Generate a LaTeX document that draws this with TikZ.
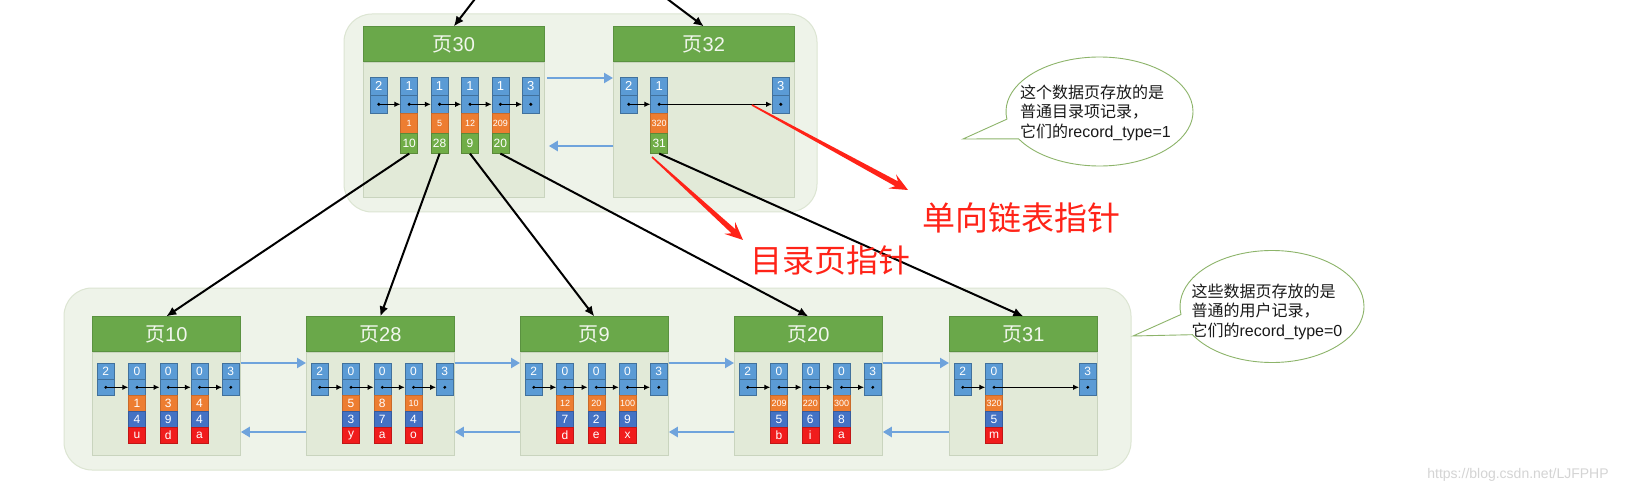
\documentclass[tikz,border=0pt]{standalone}
\usepackage{fontspec}
\setmainfont{Liberation Sans}
\newfontfamily\cjk{Noto Sans CJK SC}
\usetikzlibrary{arrows.meta,calc,shapes.callouts}
\definecolor{grpbg}{HTML}{EEF3E9}
\definecolor{grpline}{HTML}{DCE5D2}
\definecolor{bodybg}{HTML}{E2EAD8}
\definecolor{bodyline}{HTML}{C9D4BE}
\definecolor{hdr}{HTML}{6AA84A}
\definecolor{hdrline}{HTML}{5A9140}
\definecolor{hdrtext}{HTML}{F2F7EE}
\definecolor{cblue}{HTML}{5B9BD5}
\definecolor{cblueline}{HTML}{41719C}
\definecolor{corange}{HTML}{ED7D31}
\definecolor{cgreen}{HTML}{70AD47}
\definecolor{cdblue}{HTML}{4472C4}
\definecolor{cred}{HTML}{F01C1C}
\definecolor{arrblue}{HTML}{6FA3DC}
\definecolor{redc}{HTML}{FF2318}
\definecolor{callline}{HTML}{8DB46A}
\newcommand\sd[1]{{\fontsize{12}{12}\selectfont #1}}
\newcommand\lowpage[6]{%
  \node[pbody, minimum width=148pt, minimum height=103pt] (#1) at (#2,352) {};
  \node[phead, minimum width=148pt, minimum height=35pt] (#1h) at (#2,352) {{\cjk 页}#3};
  \foreach \ci/\ct in {#4} {
    \node[cellb, minimum height=16pt] (#1t\ci) at ({#2+5+31.25*\ci},363) {\ct};
    \node[cellb, minimum height=16pt] (#1d\ci) at ({#2+5+31.25*\ci},379) {};
    \fill (#1d\ci.center) circle (1.6);
  }
  \foreach \ka/\kb in {#5} {\draw[llarr] (#1d\ka.center) -- (#1d\kb.west);}
  \foreach \ri/\ro/\rk/\rv in {#6} {
    \node[cello, minimum height=16pt] (#1o\ri) at ({#2+5+31.25*\ri},395) {\ro};
    \node[celldb, minimum height=16pt] (#1b\ri) at ({#2+5+31.25*\ri},411) {\rk};
    \node[cellr, minimum height=16pt] (#1r\ri) at ({#2+5+31.25*\ri},427) {\rv};
  }
}
\newcommand\redptr[2]{%
  \coordinate (rpJ) at ($(#2)!13pt!(#1)$);
  \coordinate (rpH) at ($(#2)!18pt!(#1)$);
  \fill[redc] ($(#1)!0.8pt!90:(#2)$) -- ($(rpJ)!2.8pt!90:(#2)$) -- ($(rpH)!8pt!90:(#2)$) -- (#2)
    -- ($(rpH)!8pt!-90:(#2)$) -- ($(rpJ)!2.8pt!-90:(#2)$) -- ($(#1)!0.8pt!-90:(#2)$) -- cycle;
}
\begin{document}
\begin{tikzpicture}[x=1pt,y=-1pt,
  grp/.style={draw=grpline, fill=grpbg, line width=1pt, rounded corners=28pt},
  pbody/.style={draw=bodyline, fill=bodybg, line width=0.8pt, anchor=north west, inner sep=0pt},
  phead/.style={draw=hdrline, fill=hdr, line width=0.6pt, anchor=south west, inner sep=0pt, text=hdrtext, font=\fontsize{20}{20}\selectfont},
  cellbase/.style={line width=0.6pt, anchor=north west, inner sep=0pt, minimum width=17pt, text=white, font=\fontsize{12}{12}\selectfont},
  cellb/.style={cellbase, draw=cblueline, fill=cblue},
  cello/.style={cellbase, draw=corange!85!black, fill=corange, font=\fontsize{9}{9}\selectfont},
  cellg/.style={cellbase, draw=cgreen!80!black, fill=cgreen},
  celldb/.style={cellbase, draw=cdblue!80!black, fill=cdblue},
  cellr/.style={cellbase, draw=cred!80!black, fill=cred},
  llarr/.style={black, line width=1pt, -{Latex[length=6pt,width=5.5pt]}},
  bluearr/.style={arrblue, line width=2.5pt, -{Triangle[length=9pt,width=10pt]}},
  childarr/.style={black, line width=2pt, -{Latex[length=10pt,width=9pt]}},
  redlabel/.style={text=redc, font=\cjk\fontsize{33}{33}\selectfont, inner sep=0pt},
  callbox/.style={ellipse callout, draw=callline, fill=white, line width=0.9pt, inner sep=0pt, callout pointer arc=22},
  calltext/.style={align=left, text=black!90, font=\fontsize{16}{19.5}\selectfont, inner sep=0pt}
]
\fill[white] (0,0) rectangle (1629,494);
\useasboundingbox (0,0) rectangle (1629,494);

% groups
\draw[grp] (344,14) rectangle (817,212);
\draw[grp] (64,288) rectangle (1131,470);

% page 30
\node[pbody, minimum width=181pt, minimum height=135pt] (p30) at (363,62) {};
\node[phead, minimum width=181pt, minimum height=35pt] (p30h) at (363,62) {{\cjk 页}30};
\foreach \ci/\ct in {0/2,1/1,2/1,3/1,4/1,5/3} {
  \node[cellb, minimum height=18pt, font=\fontsize{13}{13}\selectfont] (p30t\ci) at ({370+30.4*\ci},77) {\ct};
  \node[cellb, minimum height=18pt] (p30d\ci) at ({370+30.4*\ci},95) {};
  \fill (p30d\ci.center) circle (1.7);
}
\foreach \ka/\kb in {0/1,1/2,2/3,3/4,4/5} {\draw[llarr] (p30d\ka.center) -- (p30d\kb.west);}
\foreach \ci/\co/\cg in {1/1/10,2/5/28,3/12/9,4/209/20} {
  \node[cello, minimum height=20pt] (p30o\ci) at ({370+30.4*\ci},113) {\co};
  \node[cellg, minimum height=20pt] (p30g\ci) at ({370+30.4*\ci},133) {\cg};
}

% page 32
\node[pbody, minimum width=181pt, minimum height=135pt] (p32) at (613,62) {};
\node[phead, minimum width=181pt, minimum height=35pt] (p32h) at (613,62) {{\cjk 页}32};
\foreach \ci/\ct in {0/2,1/1,5/3} {
  \node[cellb, minimum height=18pt, font=\fontsize{13}{13}\selectfont] (p32t\ci) at ({620+30.4*\ci},77) {\ct};
  \node[cellb, minimum height=18pt] (p32d\ci) at ({620+30.4*\ci},95) {};
  \fill (p32d\ci.center) circle (1.7);
}
\draw[llarr] (p32d0.center) -- (p32d1.west);
\draw[llarr] (p32d1.center) -- (p32d5.west);
\node[cello, minimum height=20pt] (p32o1) at (650.4,113) {320};
\node[cellg, minimum height=20pt] (p32g1) at (650.4,133) {31};

% top blue arrows
\draw[bluearr] ([shift={(2,16)}]p30.north east) -- ([shift={(0,16)}]p32.north west);
\draw[bluearr] ([shift={(0,84)}]p32.north west) -- ([shift={(4,84)}]p30.north east);

% bottom pages
\lowpage{p10}{92}{10}{0/2,1/0,2/0,3/0,4/3}{0/1,1/2,2/3,3/4}{1/\sd{1}/4/u,2/\sd{3}/9/d,3/\sd{4}/4/a}
\lowpage{p28}{306}{28}{0/2,1/0,2/0,3/0,4/3}{0/1,1/2,2/3,3/4}{1/\sd{5}/3/y,2/\sd{8}/7/a,3/10/4/o}
\lowpage{p9}{520}{9}{0/2,1/0,2/0,3/0,4/3}{0/1,1/2,2/3,3/4}{1/12/7/d,2/20/2/e,3/100/9/x}
\lowpage{p20}{734}{20}{0/2,1/0,2/0,3/0,4/3}{0/1,1/2,2/3,3/4}{1/209/5/b,2/220/6/i,3/300/8/a}
\lowpage{p31}{949}{31}{0/2,1/0,4/3}{0/1,1/4}{1/320/5/m}

\foreach \pa/\pb in {p10/p28,p28/p9,p9/p20,p20/p31} {
  \draw[bluearr] ([shift={(0,11)}]\pa.north east) -- ([shift={(0,11)}]\pb.north west);
  \draw[bluearr] ([shift={(0,80)}]\pb.north west) -- ([shift={(0,80)}]\pa.north east);
}

% parent -> child arrows
\coordinate (in30) at (478,-5);
\coordinate (in32) at (662,-5);
\draw[childarr] (in30) -- (p30h.north);
\draw[childarr] (in32) -- (p32h.north);
\draw[childarr] (p30g1.south) -- (p10h.north);
\draw[childarr] (p30g2.south) -- (p28h.north);
\draw[childarr] (p30g3.south) -- (p9h.north);
\draw[childarr] (p30g4.south) -- (p20h.north);
\draw[childarr] (p32g1.south) -- (p31h.north);

% red pointers and labels
\coordinate (r1s) at (752,105);
\coordinate (r1e) at (908,190);
\coordinate (r2s) at (652,157);
\coordinate (r2e) at (743,240);
\redptr{r1s}{r1e}
\redptr{r2s}{r2e}
\node[redlabel] (lbl1) at (1021,218) {单向链表指针};
\node[redlabel, font=\cjk\fontsize{32}{32}\selectfont] (lbl2) at (830,260) {目录页指针};

% callouts
\node[callbox, callout absolute pointer={(963,139)}, minimum width=187pt, minimum height=109pt] (c1) at (1099.5,111.5) {};
\node[calltext] (c1t) at ([shift={(-4,1)}]c1.center) {{\cjk 这个数据页存放的是}\\{\cjk 普通目录项记录，}\\{\cjk 它们的}record\_type=1};
\node[callbox, callout absolute pointer={(1133,336)}, minimum width=184pt, minimum height=112pt] (c2) at (1272,306.5) {};
\node[calltext] (c2t) at ([shift={(-5,5)}]c2.center) {{\cjk 这些数据页存放的是}\\{\cjk 普通的用户记录，}\\{\cjk 它们的}record\_type=0};

% watermark
\node[text=black!17, font=\fontsize{14}{14}\selectfont, inner sep=0pt] (wm) at (1518,475) {https://blog.csdn.net/LJFPHP};
\end{tikzpicture}
\end{document}
